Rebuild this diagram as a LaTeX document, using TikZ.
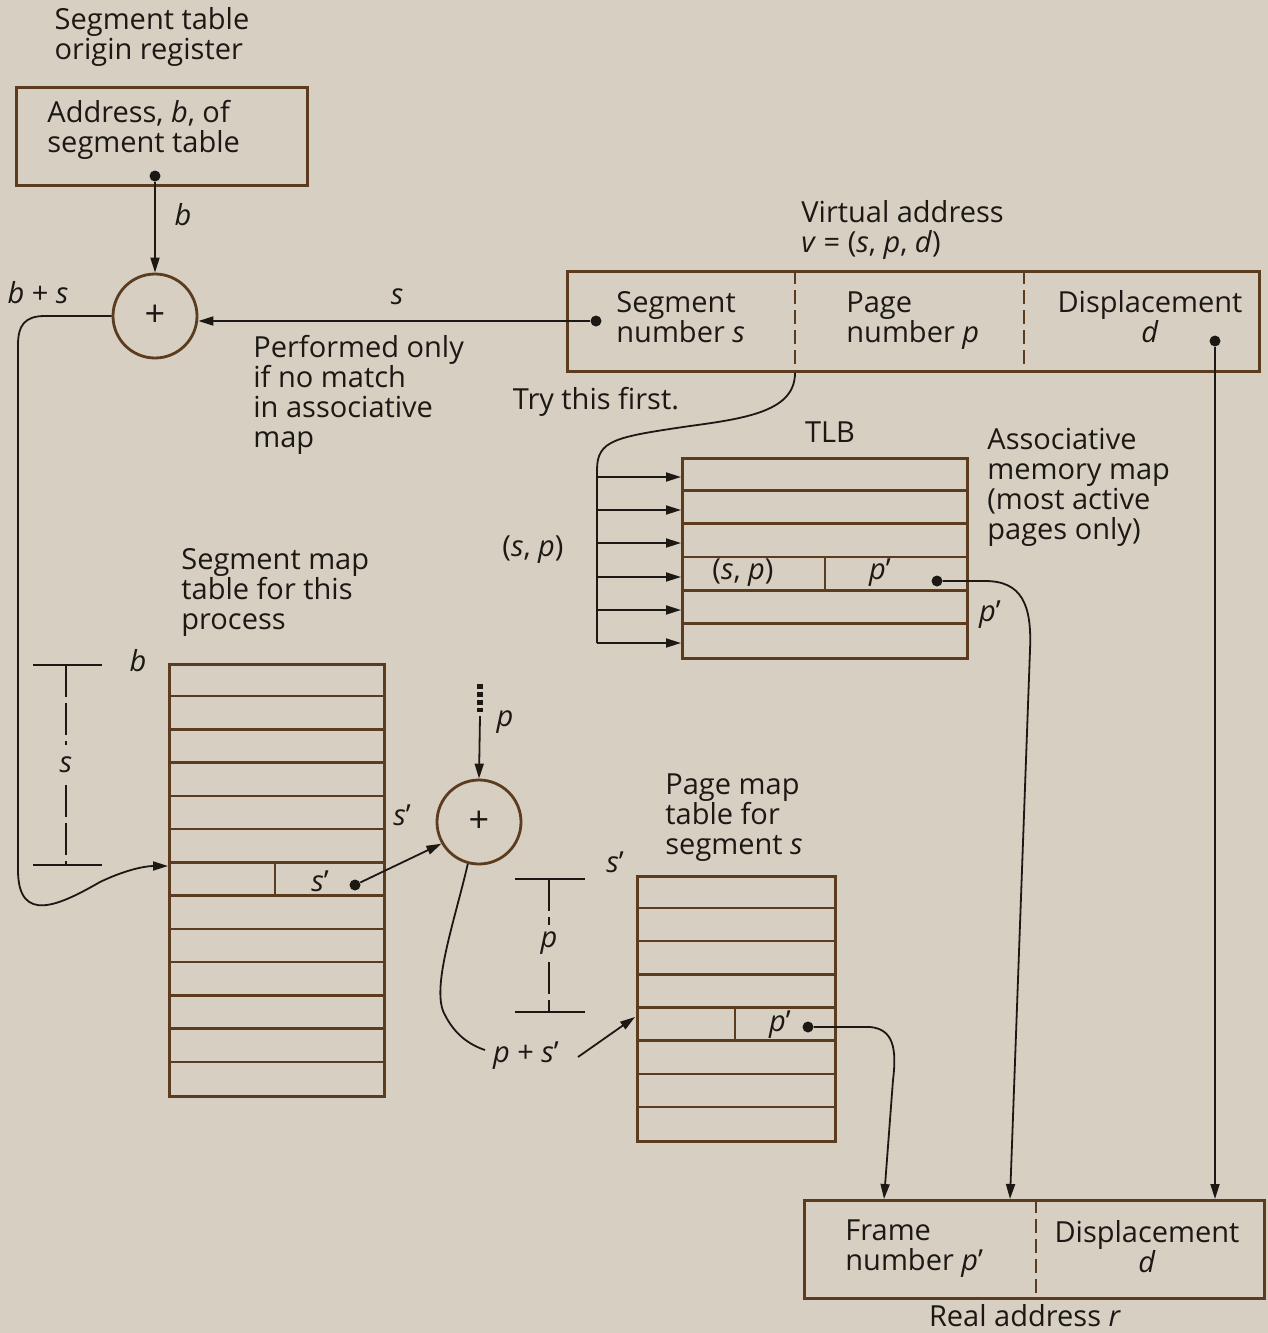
\documentclass[tikz,border=0pt]{standalone}
\usepackage{fontspec}
\setmainfont{Open Sans}
\usetikzlibrary{arrows.meta}
\definecolor{paper}{RGB}{214,207,194}
\definecolor{brn}{RGB}{92,60,30}
\definecolor{ink}{RGB}{28,24,20}
\begin{document}
\begin{tikzpicture}[x=0.5pt,y=-0.5pt,
  box/.style={draw=brn, line width=1.4pt, inner sep=0pt},
  rowline/.style={draw=brn, line width=1.2pt},
  divline/.style={draw=brn, line width=1pt, dash pattern=on 7pt off 3pt},
  conn/.style={draw=ink, line width=0.9pt},
  arr/.style={conn, -{Triangle[length=7.5pt,width=4.5pt]}},
  dim/.style={draw=ink, line width=0.8pt},
  dot/.style={circle, fill=ink, inner sep=0pt, minimum size=5.5pt},
  adder/.style={circle, draw=brn, line width=1.4pt, minimum size=42pt, inner sep=0pt, font=\fontsize{18}{18}\selectfont, text=ink},
  lbl/.style={text=ink, font=\fontsize{14.5}{15}\selectfont, inner sep=0pt},
  ml/.style={lbl, align=left},
]
\fill[paper] (0,0) rectangle (1268,1333);
\useasboundingbox (0,0) rectangle (1268,1333);

% ---------- segment table origin register ----------
\node[ml] (regtitle) at (152,37) {Segment table\\origin register};
\node[box, anchor=north west, minimum width=145.5pt, minimum height=49pt] (reg) at (15,86) {};
\node[ml, anchor=west] (regtxt) at (47,130) {Address, \textit{b}, of\\segment table};
\node[dot] (regdot) at (155,176) {};
\node[adder] (add1) at (155,316) {+};
\draw[arr] (regdot) -- (add1.north);
\node[lbl] (lb) at (183,215) {\textit{b}};
\node[lbl] (lbs) at (38,293) {\textit{b} + \textit{s}};

% ---------- virtual address ----------
\node[ml, anchor=west] (vatitle) at (801,230) {Virtual address\\\textit{v} = (\textit{s}, \textit{p}, \textit{d})};
\node[box, anchor=north west, minimum width=346pt, minimum height=50pt] (va) at (566,270) {};
\coordinate (vd1) at (795,270);
\coordinate (vd2) at (1024,270);
\draw[divline] (vd1) -- (vd1 |- va.south);
\draw[divline] (vd2) -- (vd2 |- va.south);
\node[ml, anchor=west] (vaseg) at (616,317) {Segment\\number \textit{s}};
\node[ml, anchor=west] (vapage) at (846,321) {Page\\number \textit{p}};
\node[lbl, align=center] (vadisp) at (1150,317) {Displacement\\\textit{d}};
\node[dot] (sdot) at (596,321) {};
\node[dot] (ddot) at (1215,341) {};
\draw[arr] (sdot) -- (sdot -| add1.east);
\node[lbl] (ls) at (397,297) {\textit{s}};
\node[ml, anchor=north west] (perf) at (253,335) {Performed only\\if no match\\in associative\\map};

% ---------- TLB ----------
\node[lbl] (trythis) at (596,402) {Try this first.};
\node[lbl] (tlbtitle) at (830,432) {TLB};
\node[box, anchor=north west, minimum width=142.5pt, minimum height=100pt] (tlb) at (681,457) {};
\foreach \k in {1,...,5} \draw[rowline] (tlb.north west) ++(0,\k*33.33) -- ++(285,0);
\coordinate (tlbdiv) at (825,556.7);
\draw[rowline] (tlbdiv) -- ++(0,33.3);
\node[lbl] (tlbsp) at (743,573) {(\textit{s}, \textit{p})};
\node[lbl] (tlbpp) at (880,573) {\textit{p}’};
\node[dot] (tlbdot) at (937,581) {};
\node[ml, anchor=west] (assoc) at (987,487) {Associative\\memory map\\(most active\\pages only)};
\node[lbl] (lsp) at (533,550) {(\textit{s}, \textit{p})};
\coordinate (bus) at (597,643);
\draw[conn] (vd1 |- va.south) .. controls (795,410) and (750,418) .. (690,426)
  .. controls (615,437) and (597,440) .. (597,470) -- (bus);
\foreach \y [count=\i] in {477,510,543,577,610,643} {
  \coordinate (r\i) at (597,\y);
  \draw[arr] (r\i) -- (r\i -| tlb.west);
}
\node[lbl] (ltlbp) at (990,615) {\textit{p}’};

% ---------- real address ----------
\node[box, anchor=north west, minimum width=230pt, minimum height=49pt] (ra) at (803,1199) {};
\coordinate (rd) at (1036,1199);
\draw[divline] (rd) -- (rd |- ra.south);
\node[ml, anchor=west] (raframe) at (845,1249) {Frame\\number \textit{p}’};
\node[lbl, align=center] (radisp) at (1147,1247) {Displacement\\\textit{d}};
\node[lbl] (ratitle) at (1025,1316) {Real address \textit{r}};
\coordinate (in1) at (884,1199);
\coordinate (in2) at (1010,1199);
\coordinate (in3) at (1215,1199);
\draw[arr] (ddot) -- (in3);
\draw[arr] (tlbdot) -- (985,581) .. controls (1022,581) and (1032,605) .. (1030,650) -- (in2);

% ---------- segment map table ----------
\node[ml, anchor=west] (segtitle) at (181,592) {Segment map\\table for this\\process};
\node[box, anchor=north west, minimum width=107.5pt, minimum height=216pt] (segtab) at (168,663) {};
\foreach \k in {1,...,12} \draw[rowline] (segtab.north west) ++(0,\k*33.23) -- ++(215,0);
\coordinate (segdiv) at (275,862.4);
\draw[rowline] (segdiv) -- ++(0,33.2);
\node[lbl] (segsp) at (320,881) {\textit{s}’};
\node[dot] (segdot) at (355,885) {};
\node[lbl] (lb2) at (138,661) {\textit{b}};
\coordinate (segin) at (168,866);
\draw[arr] (add1.west) -- (45,316) .. controls (25,316) and (18,325) .. (18,345) -- (18,870)
  .. controls (18,925) and (60,905) .. (100,882) .. controls (125,870) and (145,866) .. (segin);
% dimension s
\draw[dim] (33,665) -- (102,665);
\draw[dim] (33,865) -- (102,865);
\draw[dim, dash pattern=on 16pt off 3pt] (66,665) -- (66,745);
\draw[dim, dash pattern=on 16pt off 3pt] (66,785) -- (66,865);
\node[lbl] (ldims) at (66,765) {\textit{s}};

% ---------- second adder ----------
\node[adder] (add2) at (479,822) {+};
\draw[ink, line width=2.6pt, dash pattern=on 2.5pt off 1.5pt] (480,684) -- (480,712);
\coordinate (pin) at (480,716);
\draw[arr] (pin) -- (add2.north);
\node[lbl] (lp) at (505,722) {\textit{p}};
\draw[arr] (segdot) -- (add2.210);
\node[lbl] (lsp2) at (402,815) {\textit{s}’};
\coordinate (psend) at (485,1050);
\draw[conn] (add2.255) .. controls (455,920) and (430,990) .. (445,1015) .. controls (455,1035) and (470,1045) .. (psend);
\node[lbl] (lpsp) at (526,1056) {\textit{p} + \textit{s}’};

% ---------- page map table ----------
\node[ml, anchor=west] (pagetitle) at (665,818) {Page map\\table for\\segment \textit{s}};
\node[lbl] (lsp3) at (615,862) {\textit{s}’};
\node[box, anchor=north west, minimum width=99pt, minimum height=132.5pt] (pagetab) at (636,875) {};
\foreach \k in {1,...,7} \draw[rowline] (pagetab.north west) ++(0,\k*33.125) -- ++(198,0);
\coordinate (pagediv) at (735,1007.5);
\draw[rowline] (pagediv) -- ++(0,33.1);
\node[lbl] (pagepp) at (780,1025) {\textit{p}’};
\node[dot] (pagedot) at (808,1027) {};
\coordinate (psstart) at (578,1057);
\coordinate (pagein) at (635,1017);
\draw[arr] (psstart) -- (pagein);
% dimension p
\draw[dim] (515,879) -- (585,879);
\draw[dim] (515,1012) -- (585,1012);
\draw[dim, dash pattern=on 16pt off 3pt] (549,879) -- (549,925);
\draw[dim, dash pattern=on 16pt off 3pt] (549,962) -- (549,1012);
\node[lbl] (ldimp) at (549,943) {\textit{p}};
\draw[arr] (pagedot) -- (870,1027) .. controls (893,1029) and (897,1048) .. (893,1080) -- (in1);
\end{tikzpicture}
\end{document}
